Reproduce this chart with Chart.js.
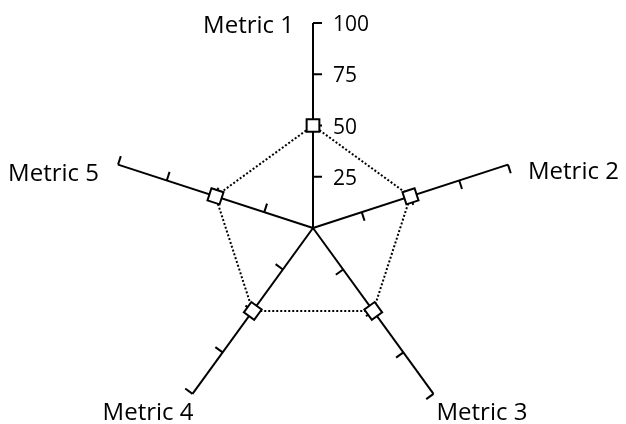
<!DOCTYPE html>
<html>
<head>
<meta charset="utf-8">
<script src="https://cdn.jsdelivr.net/npm/chart.js@4.4.1/dist/chart.umd.min.js"></script>
<style>
  html, body { margin: 0; padding: 0; background: #ffffff; overflow: hidden; }
  #wrap { width: 626px; height: 424px; overflow: hidden; }
  canvas { display: block; }
</style>
</head>
<body>
<div id="wrap"><canvas id="c" width="626" height="440"></canvas></div>
<script>
const categories = ['Metric 1', 'Metric 2', 'Metric 3', 'Metric 4', 'Metric 5'];
const seriesValues = [50, 50, 50, 50, 50];
const tickLabels = ['25', '50', '75', '100'];
const scaleMin = 0;
const scaleMax = 100;
const scaleStep = 25;

const FONT = '"Open Sans", "DejaVu Sans", sans-serif';

// label placement relative to the end of each axis: [dx, baselineDy, align]
const labelOffsets = [
  [-19, 10, 'right'],
  [20, 14, 'left'],
  [3, 26, 'left'],
  [1, 26, 'right'],
  [-19, 16, 'right']
];

const axisDecor = {
  id: 'axisDecor',
  beforeDatasetsDraw(chart) {
    const s = chart.scales.r;
    const ctx = chart.ctx;
    ctx.save();
    ctx.strokeStyle = '#000';
    ctx.lineWidth = 2;
    const tickLen = 9;
    for (let i = 0; i < categories.length; i++) {
      const a = s.getIndexAngle(i) - Math.PI / 2;
      const px = -Math.sin(a), py = Math.cos(a);
      s.ticks.forEach(t => {
        if (t.value <= scaleMin) return;
        const p = s.getPointPositionForValue(i, t.value);
        ctx.beginPath();
        ctx.moveTo(p.x, p.y);
        ctx.lineTo(p.x + px * tickLen, p.y + py * tickLen);
        ctx.stroke();
      });
    }
    // tick labels on the first axis
    ctx.fillStyle = '#000';
    ctx.font = '21px ' + FONT;
    ctx.textAlign = 'left';
    ctx.textBaseline = 'alphabetic';
    s.ticks.forEach(t => {
      if (t.value <= scaleMin) return;
      const idx = Math.round(t.value / scaleStep) - 1;
      const p = s.getPointPositionForValue(0, t.value);
      ctx.fillText(tickLabels[idx], p.x + 20, p.y + 8);
    });
    // category labels
    ctx.font = '24px ' + FONT;
    for (let i = 0; i < categories.length; i++) {
      const p = s.getPointPositionForValue(i, scaleMax);
      const o = labelOffsets[i];
      ctx.textAlign = o[2];
      ctx.fillText(categories[i], p.x + o[0], p.y + o[1]);
    }
    ctx.restore();
  }
};

new Chart(document.getElementById('c'), {
  type: 'radar',
  data: {
    labels: categories,
    datasets: [{
      data: seriesValues,
      borderColor: '#000',
      borderWidth: 2,
      borderDash: [2, 2],
      fill: false,
      backgroundColor: 'rgba(0,0,0,0)',
      pointStyle: 'rect',
      pointRadius: 9,
      pointBorderWidth: 2,
      pointBorderColor: '#000',
      pointBackgroundColor: '#fff',
      pointRotation: ctx => (ctx.dataIndex * 72) % 90
    }]
  },
  options: {
    responsive: false,
    animation: false,
    devicePixelRatio: 1,
    layout: { padding: { left: 108, right: 108, top: 23, bottom: 7 } },
    plugins: { legend: { display: false }, tooltip: { enabled: false } },
    elements: { line: { tension: 0 } },
    scales: {
      r: {
        min: scaleMin,
        max: scaleMax,
        ticks: { display: false, stepSize: scaleStep },
        grid: { display: false },
        angleLines: { display: true, color: '#000', lineWidth: 2 },
        pointLabels: { display: false }
      }
    }
  },
  plugins: [axisDecor]
});
</script>
</body>
</html>
